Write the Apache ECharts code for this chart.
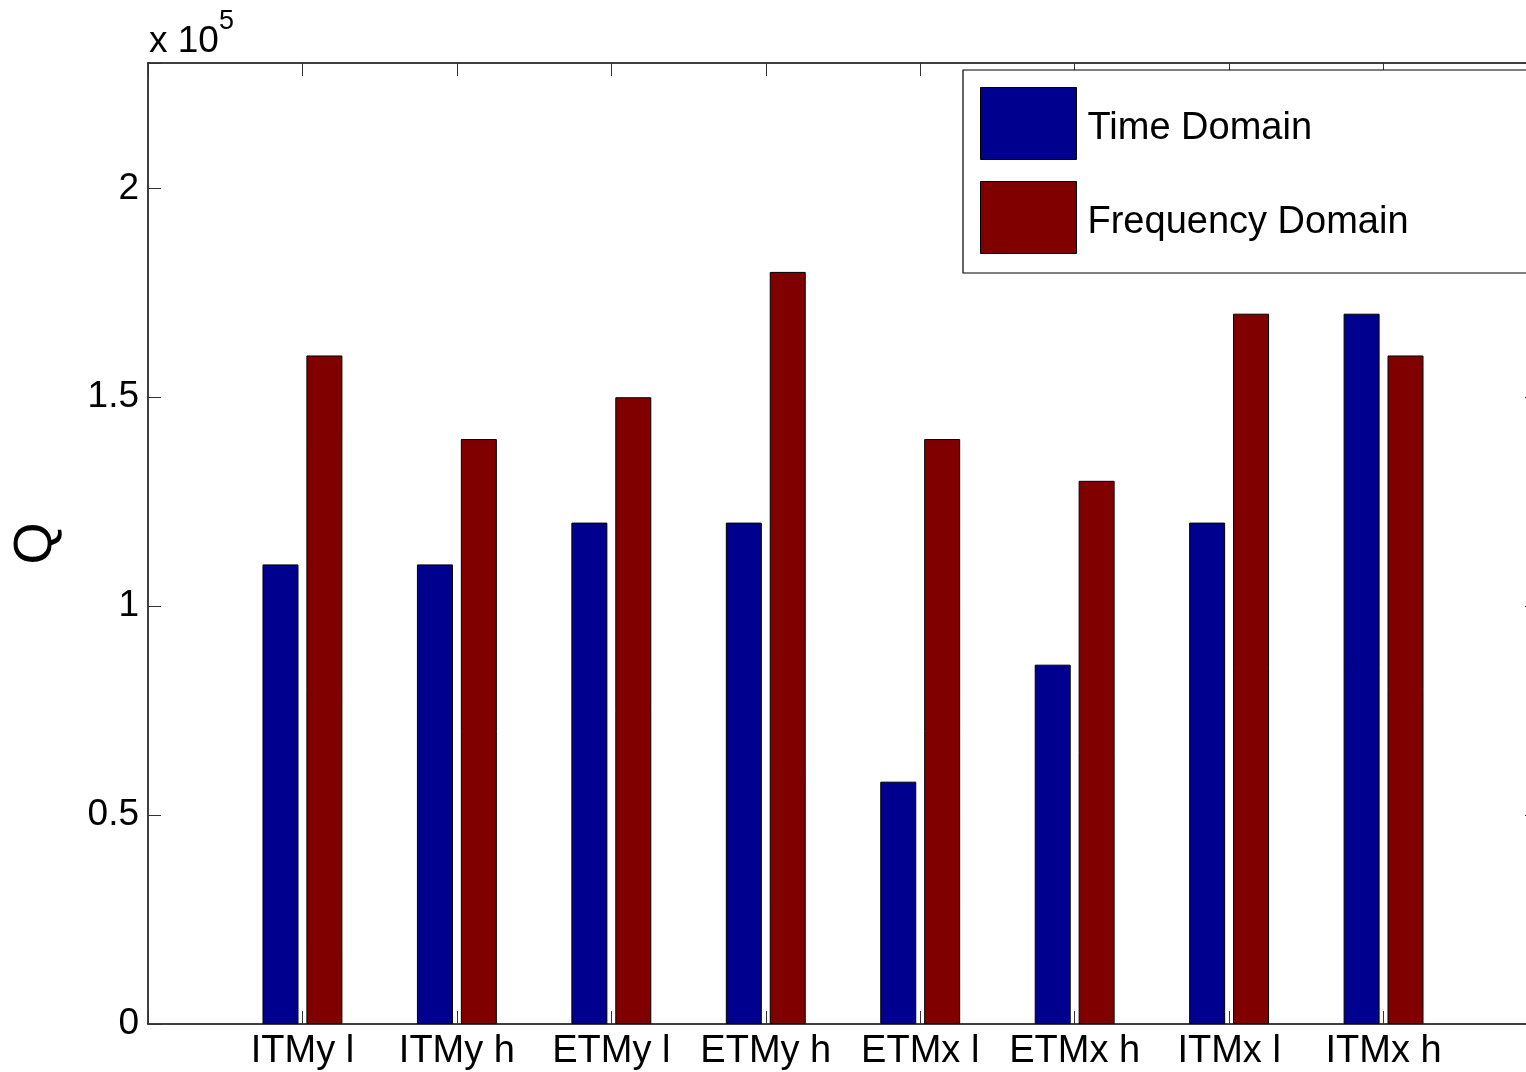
<!DOCTYPE html>
<html>
<head>
<meta charset="utf-8">
<title>Q by mirror and domain</title>
<script src="https://cdn.jsdelivr.net/npm/echarts@6/dist/echarts.min.js"></script>
<style>
  html, body { margin: 0; padding: 0; background: #ffffff; }
  #chart { width: 1526px; height: 1072px; }
</style>
</head>
<body>
<div id="chart"></div>
<script>
// Mirror / mode labels, one group of bars per entry (positions 1..8 on the x axis)
const categories = ['ITMy l', 'ITMy h', 'ETMy l', 'ETMy h', 'ETMx l', 'ETMx h', 'ITMx l', 'ITMx h'];
// Quality factor Q from the two fitting methods
const timeDomain = [110000, 110000, 120000, 120000, 58000, 86000, 120000, 170000];
const frequencyDomain = [160000, 140000, 150000, 180000, 140000, 130000, 170000, 160000];
const seriesNames = ['Time Domain', 'Frequency Domain'];
// Y axis range and step, labelled in units of 1e5
const yMin = 0;
const yMax = 230000;
const yStep = 50000;
const yScale = 100000;

const FONT = '"Liberation Sans", Arial, Helvetica, sans-serif';
const BLUE = '#00008f';
const RED = '#800000';

const toPairs = vals => vals.map((v, i) => [i + 1, v]);

const chart = echarts.init(document.getElementById('chart'), null, { renderer: 'canvas' });

const axisLine = { show: true, onZero: false, lineStyle: { color: '#000', width: 1.5 } };
const tickStyle = { show: true, inside: true, length: 13, lineStyle: { color: '#333', width: 1 } };

chart.setOption({
  backgroundColor: '#ffffff',
  animation: false,
  grid: { left: 148, top: 63, width: 1390, height: 961, containLabel: false, outerBoundsMode: 'none' },
  legend: {
    orient: 'vertical',
    left: 963,
    top: 70,
    data: seriesNames,
    icon: 'rect',
    itemWidth: 96,
    itemHeight: 72,
    itemGap: 21,
    padding: [17, 160, 19, 17],
    borderColor: '#000',
    borderWidth: 1.2,
    backgroundColor: '#fff',
    formatter: name => '{t|' + name + '}',
    textStyle: {
      fontFamily: FONT, fontSize: 38, color: '#000',
      rich: { t: { fontFamily: FONT, fontSize: 38, color: '#000', padding: [10, 0, 0, 6] } }
    },
    itemStyle: { borderColor: '#000', borderWidth: 1 }
  },
  xAxis: [
    {
      type: 'value', position: 'bottom', min: 0, max: categories.length + 1, interval: 1,
      axisLine: axisLine, axisTick: tickStyle, splitLine: { show: false },
      axisLabel: {
        margin: 9, color: '#000', fontFamily: FONT, fontSize: 38,
        formatter: v => (v >= 1 && v <= categories.length && Number.isInteger(v)) ? categories[v - 1] : ''
      }
    },
    {
      type: 'value', position: 'top', min: 0, max: categories.length + 1, interval: 1,
      axisLine: axisLine, axisTick: tickStyle, splitLine: { show: false },
      axisLabel: { show: false }
    }
  ],
  yAxis: [
    {
      type: 'value', position: 'left', min: yMin, max: yMax, interval: yStep,
      axisLine: axisLine, axisTick: tickStyle, splitLine: { show: false },
      axisLabel: {
        margin: 9, color: '#000', fontFamily: FONT, fontSize: 37,
        formatter: v => (v % yStep === 0) ? String(v / yScale) : ''
      },
      name: 'Q', nameLocation: 'middle', nameRotate: 90, nameGap: 85,
      nameTextStyle: { fontFamily: FONT, fontSize: 54, color: '#000' }
    },
    {
      type: 'value', position: 'right', min: yMin, max: yMax, interval: yStep,
      axisLine: axisLine, axisTick: tickStyle, splitLine: { show: false },
      axisLabel: { show: false }
    }
  ],
  series: [
    {
      name: seriesNames[0], type: 'bar', xAxisIndex: 0, yAxisIndex: 0,
      data: toPairs(timeDomain),
      barWidth: 36, barGap: '22%',
      itemStyle: { color: BLUE, borderColor: '#000', borderWidth: 1 }
    },
    {
      name: seriesNames[1], type: 'bar', xAxisIndex: 0, yAxisIndex: 0,
      data: toPairs(frequencyDomain),
      barWidth: 36, barGap: '22%',
      itemStyle: { color: RED, borderColor: '#000', borderWidth: 1 }
    }
  ],
  graphic: [
    {
      type: 'text', x: 149, y: 60,
      style: { text: 'x 10', fontFamily: FONT, fontSize: 37, fill: '#000', verticalAlign: 'bottom' }
    },
    {
      type: 'text', x: 219, y: 35,
      style: { text: '5', fontFamily: FONT, fontSize: 27, fill: '#000', verticalAlign: 'bottom' }
    }
  ]
});
</script>
</body>
</html>
